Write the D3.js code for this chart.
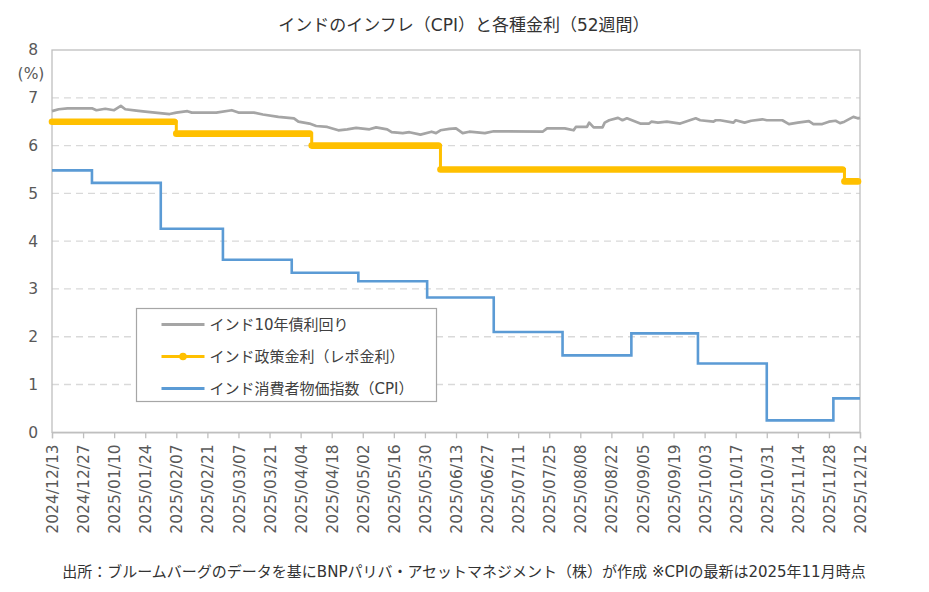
<!DOCTYPE html>
<html>
<head>
<meta charset="utf-8">
<script src="https://cdn.jsdelivr.net/npm/d3@7"></script>
<style>
	body { margin: 0; background: #fff; }
	svg { display: block; font-family: "DejaVu Sans", "Noto Sans CJK JP", sans-serif; }
</style>
</head>
<body>
<svg id="chart" width="929" height="592"></svg>
<script>
const TITLE = "インドのインフレ（CPI）と各種金利（52週間）";
const SOURCE_NOTE = "出所：ブルームバーグのデータを基にBNPパリバ・アセットマネジメント（株）が作成 ※CPIの最新は2025年11月時点";

const seriesNames = ["インド10年債利回り", "インド政策金利（レポ金利）", "インド消費者物価指数（CPI）"];

const xTickLabels = [
	"2024/12/13", "2024/12/27", "2025/01/10", "2025/01/24", "2025/02/07", "2025/02/21",
	"2025/03/07", "2025/03/21", "2025/04/04", "2025/04/18", "2025/05/02", "2025/05/16",
	"2025/05/30", "2025/06/13", "2025/06/27", "2025/07/11", "2025/07/25", "2025/08/08",
	"2025/08/22", "2025/09/05", "2025/09/19", "2025/10/03", "2025/10/17", "2025/10/31",
	"2025/11/14", "2025/11/28", "2025/12/12",
];
const yTicks = [0, 1, 2, 3, 4, 5, 6, 7, 8];

// 10年債利回り
const bondDates = [
	"2024/12/13", "2024/12/16", "2024/12/20", "2024/12/31", "2025/01/02", "2025/01/06",
	"2025/01/10", "2025/01/13", "2025/01/15", "2025/01/20", "2025/01/24", "2025/02/04",
	"2025/02/07", "2025/02/12", "2025/02/14", "2025/02/25", "2025/03/04", "2025/03/07",
	"2025/03/14", "2025/03/18", "2025/03/25", "2025/04/01", "2025/04/03", "2025/04/08",
	"2025/04/11", "2025/04/16", "2025/04/21", "2025/04/25", "2025/04/29", "2025/05/05",
	"2025/05/08", "2025/05/13", "2025/05/15", "2025/05/20", "2025/05/23", "2025/05/28",
	"2025/06/02", "2025/06/04", "2025/06/06", "2025/06/10", "2025/06/13", "2025/06/16",
	"2025/06/19", "2025/06/26", "2025/06/30", "2025/07/22", "2025/07/24", "2025/08/01",
	"2025/08/05", "2025/08/06", "2025/08/11", "2025/08/12", "2025/08/14", "2025/08/18",
	"2025/08/19", "2025/08/21", "2025/08/25", "2025/08/27", "2025/08/29", "2025/09/04",
	"2025/09/08", "2025/09/09", "2025/09/12", "2025/09/16", "2025/09/22", "2025/09/25",
	"2025/09/29", "2025/10/01", "2025/10/07", "2025/10/08", "2025/10/10", "2025/10/16",
	"2025/10/17", "2025/10/21", "2025/10/24", "2025/10/29", "2025/10/31", "2025/11/07",
	"2025/11/10", "2025/11/14", "2025/11/19", "2025/11/21", "2025/11/25", "2025/11/28",
	"2025/12/01", "2025/12/03", "2025/12/05", "2025/12/09", "2025/12/11", "2025/12/12",
];
const bondYields = [
	6.72, 6.76, 6.78, 6.78, 6.74, 6.77,
	6.74, 6.83, 6.76, 6.73, 6.71, 6.66,
	6.69, 6.72, 6.69, 6.69, 6.74, 6.69,
	6.69, 6.65, 6.60, 6.57, 6.50, 6.46,
	6.41, 6.39, 6.32, 6.34, 6.37, 6.34,
	6.38, 6.34, 6.28, 6.26, 6.28, 6.23,
	6.29, 6.26, 6.32, 6.35, 6.36, 6.26,
	6.29, 6.26, 6.30, 6.29, 6.36, 6.36,
	6.32, 6.39, 6.39, 6.48, 6.38, 6.38,
	6.48, 6.53, 6.58, 6.53, 6.57, 6.46,
	6.46, 6.50, 6.48, 6.50, 6.46, 6.51,
	6.57, 6.53, 6.50, 6.53, 6.53, 6.48,
	6.53, 6.48, 6.52, 6.55, 6.53, 6.53,
	6.45, 6.48, 6.51, 6.45, 6.45, 6.50,
	6.52, 6.47, 6.50, 6.60, 6.57, 6.58,
];

// レポ金利: dates where the rate changed
const repoDates = ["2024/12/13", "2025/02/07", "2025/04/09", "2025/06/06", "2025/12/05"];
const repoRates = [6.50, 6.25, 6.00, 5.50, 5.25];

// CPI (前年比), plotted from month end
const cpiDates = [
	"2024/12/13", "2024/12/31", "2025/01/31", "2025/02/28", "2025/03/31", "2025/04/30",
	"2025/05/31", "2025/06/30", "2025/07/31", "2025/08/31", "2025/09/30", "2025/10/31",
	"2025/11/30",
];
const cpiValues = [5.48, 5.22, 4.26, 3.61, 3.34, 3.16, 2.82, 2.10, 1.61, 2.07, 1.44, 0.25, 0.71];

const END_DATE = "2025/12/12";

const COLORS = { bond: "#a5a5a5", repo: "#ffc000", cpi: "#5b9bd5" };

const parseDate = d3.timeParse("%Y/%m/%d");
const svg = d3.select("#chart");

const plot = { left: 52, right: 860, top: 50, bottom: 432.3 };

const x = d3
	.scaleTime()
	.domain([parseDate(xTickLabels[0]), parseDate(END_DATE)])
	.range([plot.left, plot.right]);

const y = d3
	.scaleLinear()
	.domain([0, 8])
	.range([plot.bottom, plot.top]);

function toPoints(dates, values) {
	return dates.map((d, i) => ({ date: parseDate(d), value: values[i] }));
}

// step series get a closing point at the end of the axis
function withEnd(points) {
	return points.concat([{ date: parseDate(END_DATE), value: points[points.length - 1].value }]);
}

function drawFrame() {
	svg.append("rect").attr("width", 929).attr("height", 592).attr("fill", "#fff");

	svg.append("g")
		.selectAll("line")
		.data(yTicks.filter((t) => t > 0 && t < 8))
		.join("line")
		.attr("x1", plot.left)
		.attr("x2", plot.right)
		.attr("y1", (d) => y(d))
		.attr("y2", (d) => y(d))
		.attr("stroke", "#d9d9d9")
		.attr("stroke-width", 1.3)
		.attr("stroke-dasharray", "7,5");

	svg.append("rect")
		.attr("x", plot.left)
		.attr("y", plot.top)
		.attr("width", plot.right - plot.left)
		.attr("height", plot.bottom - plot.top)
		.attr("fill", "none")
		.attr("stroke", "#bfbfbf")
		.attr("stroke-width", 1.3);

	const xAxis = svg
		.append("g")
		.attr("transform", `translate(0, ${plot.bottom})`)
		.call(
			d3.axisBottom(x)
				.tickValues(xTickLabels.map(parseDate))
				.tickSize(6)
				.tickFormat(d3.timeFormat("%Y/%m/%d"))
		);
	xAxis.select(".domain").attr("stroke", "#bfbfbf").attr("stroke-width", 1.3);
	xAxis.selectAll(".tick line").attr("stroke", "#bfbfbf").attr("stroke-width", 1.3);
	xAxis
		.selectAll(".tick text")
		.attr("transform", "rotate(-90)")
		.attr("text-anchor", "end")
		.attr("x", -12)
		.attr("y", 0)
		.attr("dy", "0.36em")
		.attr("fill", "#595959")
		.style("font-size", "15.5px")
		.style("font-family", "DejaVu Sans");

	const yAxis = svg
		.append("g")
		.attr("transform", `translate(${plot.left}, 0)`)
		.call(d3.axisLeft(y).tickValues(yTicks).tickSize(0).tickPadding(14));
	yAxis.select(".domain").remove();
	yAxis
		.selectAll(".tick text")
		.attr("fill", "#595959")
		.style("font-size", "15.5px")
		.style("font-family", "DejaVu Sans");

	svg.append("text")
		.attr("x", 31)
		.attr("y", 74)
		.attr("dy", "0.35em")
		.attr("text-anchor", "middle")
		.attr("fill", "#595959")
		.style("font-size", "15.5px")
		.text("(%)");
}

function drawSeries() {
	const bond = toPoints(bondDates, bondYields);
	const repo = withEnd(toPoints(repoDates, repoRates));
	const cpi = withEnd(toPoints(cpiDates, cpiValues));

	svg.append("path")
		.datum(cpi)
		.attr("fill", "none")
		.attr("stroke", COLORS.cpi)
		.attr("stroke-width", 2.6)
		.attr("d", d3.line().x((d) => x(d.date)).y((d) => y(d.value)).curve(d3.curveStepAfter));

	svg.append("path")
		.datum(bond)
		.attr("fill", "none")
		.attr("stroke", COLORS.bond)
		.attr("stroke-width", 2.7)
		.attr("stroke-linejoin", "round")
		.attr("d", d3.line().x((d) => x(d.date)).y((d) => y(d.value)));

	svg.append("path")
		.datum(repo)
		.attr("fill", "none")
		.attr("stroke", COLORS.repo)
		.attr("stroke-width", 3)
		.attr("d", d3.line().x((d) => x(d.date)).y((d) => y(d.value)).curve(d3.curveStepAfter));

	// daily markers overlap into a thick band on each level
	const levels = repo.slice(0, -1).map((d, i) => ({ from: d.date, to: repo[i + 1].date, value: d.value }));
	svg.append("g")
		.selectAll("line")
		.data(levels)
		.join("line")
		.attr("x1", (d) => x(d.from))
		.attr("x2", (d) => x(d.to) - 2)
		.attr("y1", (d) => y(d.value))
		.attr("y2", (d) => y(d.value))
		.attr("stroke", COLORS.repo)
		.attr("stroke-width", 6.6)
		.attr("stroke-linecap", "round");
}

function drawLegend() {
	const lg = svg.append("g").attr("transform", "translate(136.5, 308.5)");

	lg.append("rect")
		.attr("width", 300)
		.attr("height", 93)
		.attr("fill", "#fff")
		.attr("stroke", "#a6a6a6")
		.attr("stroke-width", 1.2);

	const rows = [
		{ name: seriesNames[0], color: COLORS.bond, marker: false },
		{ name: seriesNames[1], color: COLORS.repo, marker: true },
		{ name: seriesNames[2], color: COLORS.cpi, marker: false },
	];

	const row = lg
		.selectAll(".legend-row")
		.data(rows)
		.join("g")
		.attr("class", "legend-row")
		.attr("transform", (d, i) => `translate(0, ${16 + i * 32})`);

	row.append("line")
		.attr("x1", 25)
		.attr("x2", 68)
		.attr("stroke", (d) => d.color)
		.attr("stroke-width", 3);

	row.filter((d) => d.marker)
		.append("circle")
		.attr("cx", 46.5)
		.attr("r", 3.8)
		.attr("fill", (d) => d.color);

	row.append("text")
		.attr("x", 73)
		.attr("dy", "0.36em")
		.attr("fill", "#404040")
		.style("font-size", "15px")
		.text((d) => d.name);
}

function drawTexts() {
	svg.append("text")
		.attr("x", 464)
		.attr("y", 25)
		.attr("dy", "0.36em")
		.attr("text-anchor", "middle")
		.attr("fill", "#333")
		.style("font-size", "17px")
		.text(TITLE);

	svg.append("text")
		.attr("x", 464)
		.attr("y", 572)
		.attr("dy", "0.36em")
		.attr("text-anchor", "middle")
		.attr("fill", "#333")
		.style("font-size", "15px")
		.text(SOURCE_NOTE);
}

drawFrame();
drawSeries();
drawLegend();
drawTexts();
</script>
</body>
</html>
